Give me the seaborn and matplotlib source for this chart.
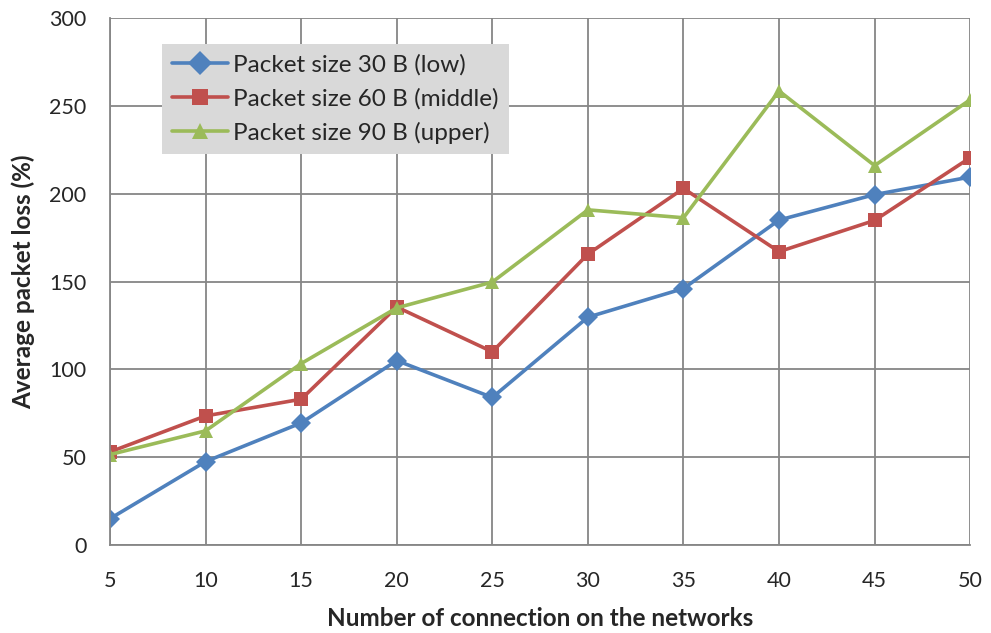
import pandas as pd
import matplotlib
matplotlib.use("Agg")
import matplotlib.pyplot as plt
import seaborn as sns

connections = [5, 10, 15, 20, 25, 30, 35, 40, 45, 50]
loss_low = [15, 47.5, 69.5, 105, 84, 129.7, 146, 185, 199.5, 209.5]
loss_middle = [53, 73.5, 83, 135.5, 110, 165.6, 203, 167, 184.8, 220.5]
loss_upper = [51.5, 65, 103.3, 135, 149.7, 190.8, 186.3, 258.5, 216, 253.5]

series_names = ["Packet size 30 B (low)", "Packet size 60 B (middle)", "Packet size 90 B (upper)"]
colores = ["#4f81bd", "#c0504d", "#9bbb59"]
marcadores = ["D", "s", "^"]

filas = []
for nombre, valores in zip(series_names, [loss_low, loss_middle, loss_upper]):
    for x, y in zip(connections, valores):
        filas.append({"conexiones": x, "perdida": y, "serie": nombre})
datos = pd.DataFrame(filas)

sns.set_style("white")
plt.rcParams['font.family'] = ['Lato', 'DejaVu Sans']

fig = plt.figure(figsize=(9.91, 6.33), dpi=100)
ax = fig.add_axes([0.111, 0.139, 0.868, 0.8325])

sns.lineplot(data=datos, x="conexiones", y="perdida", hue="serie", style="serie",
             palette=dict(zip(series_names, colores)),
             markers=dict(zip(series_names, marcadores)), dashes=False,
             linewidth=2.6, markersize=10.5, markeredgewidth=0, ax=ax)

ax.set_xlim(5, 50)
ax.set_ylim(0, 300)
ax.set_xticks(connections)
ax.set_yticks(range(0, 301, 50))
ax.grid(True, color="#868686", linewidth=1.3)
ax.set_axisbelow(True)
for lado in ["top", "right"]:
    ax.spines[lado].set_visible(False)
for lado in ["left", "bottom"]:
    ax.spines[lado].set_color("#868686")
    ax.spines[lado].set_linewidth(1.3)
ax.tick_params(axis="y", length=7, width=1.3, color="#868686", pad=10, labelsize=15.5)
ax.tick_params(axis="x", length=0, pad=19, labelsize=15.5)

ax.set_xlabel("Number of connection on the networks", fontsize=17.5, fontweight="bold", labelpad=11)
ax.set_ylabel("Average packet loss (%)", fontsize=17.5, fontweight="bold", labelpad=10)

leg = ax.legend(loc="upper left", bbox_to_anchor=(0.0605, 0.951), fontsize=17.5,
                frameon=True, fancybox=False, framealpha=1, handlelength=2.3,
                borderpad=0.42, labelspacing=0.5, handletextpad=0.2, borderaxespad=0,
                markerscale=1.15)
leg.get_frame().set_facecolor("#d9d9d9")
leg.get_frame().set_edgecolor("none")

fig.savefig("out.png", dpi=100)
